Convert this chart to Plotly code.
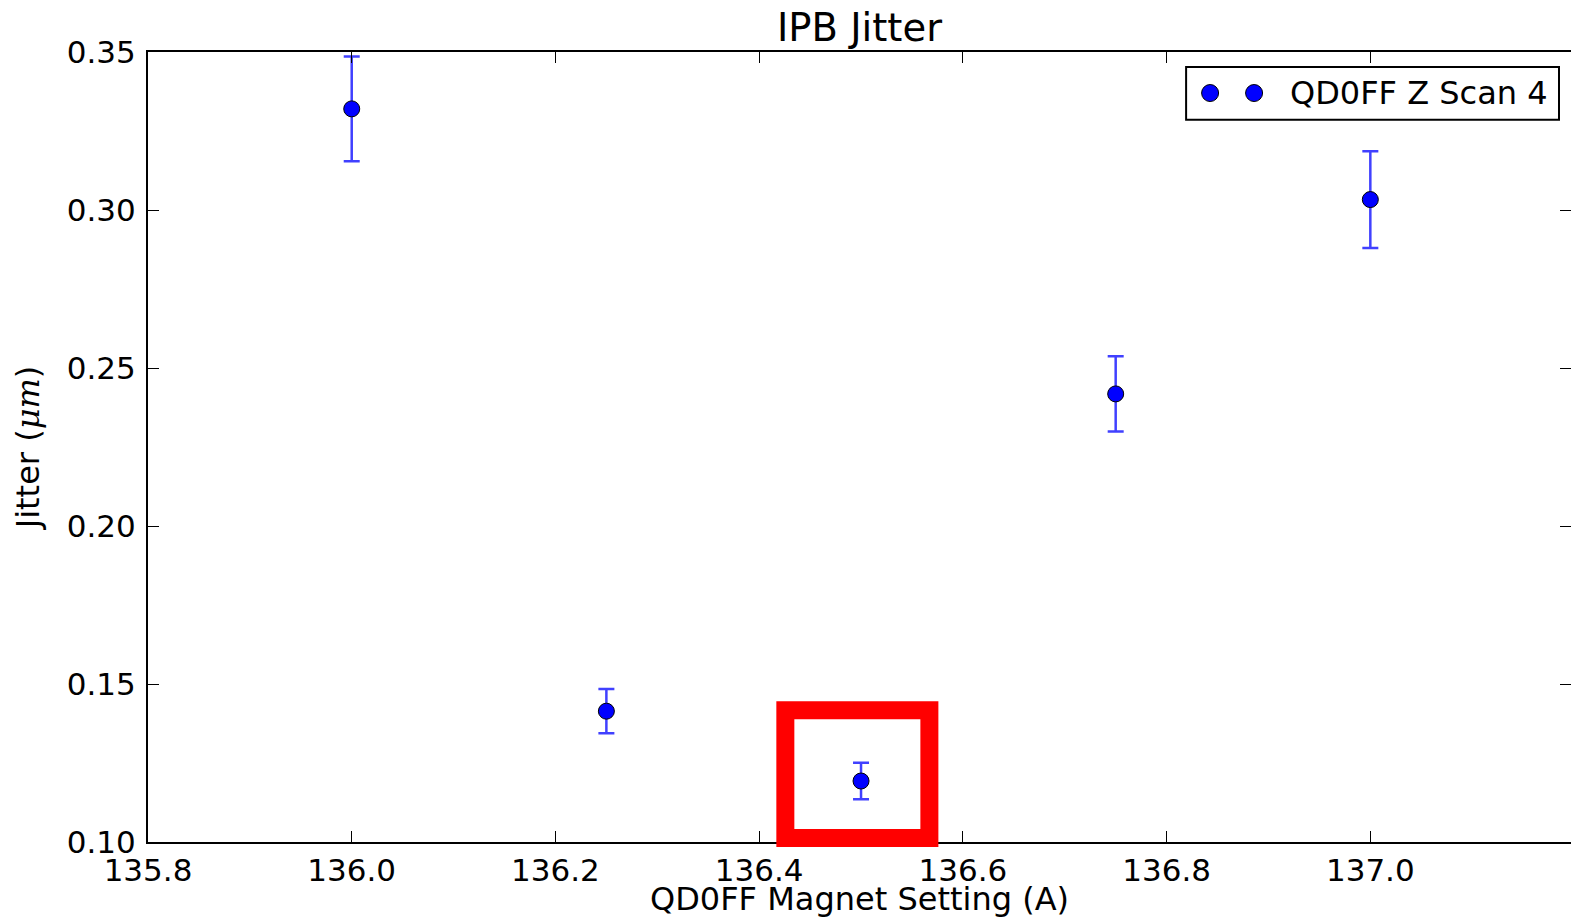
import plotly.graph_objects as go

# ---- data ----
magnet_setting = [136.0, 136.25, 136.5, 136.75, 137.0]
jitter = [0.3320, 0.1414, 0.1193, 0.2418, 0.3033]
jitter_err = [0.0166, 0.0070, 0.0058, 0.0119, 0.0153]
series_name = "QD0FF Z Scan 4"

x_ticks = [135.8, 136.0, 136.2, 136.4, 136.6, 136.8, 137.0]
y_ticks = [0.10, 0.15, 0.20, 0.25, 0.30, 0.35]

# highlighted region (data units, centre of the red outline)
box_x = [136.4257, 136.5671]
box_y = [0.1013, 0.1417]

# ---- layout geometry ----
W, H = 1571, 918
ML, MT, MB, MR = 147.6, 52.3, 76.3, 0
XR = [135.8, 137.197]
YR = [0.10, 0.35]
pw = W - ML - MR
ph = H - MT - MB


def px_to_paper_x(px):
    return (px - ML) / pw


def py_to_paper_y(py):
    return (H - MB - py) / ph


def dx_to_paper(v):
    return (v - XR[0]) / (XR[1] - XR[0])


def dy_to_paper(v):
    return (v - YR[0]) / (YR[1] - YR[0])


FONT = "DejaVu Sans"

fig = go.Figure()
fig.add_trace(go.Scatter(
    x=magnet_setting, y=jitter, mode="markers", name=series_name,
    showlegend=False,
    marker=dict(color="#0000ff", size=16, line=dict(color="black", width=1)),
    error_y=dict(type="data", array=jitter_err, visible=True,
                 color="rgba(30,30,255,0.85)", thickness=2.5, width=8),
    cliponaxis=False,
))

axis_common = dict(
    showgrid=False, zeroline=False, showline=True, linecolor="black", linewidth=2,
    mirror="allticks", ticks="inside", ticklen=11, tickwidth=1, tickcolor="black",
    tickfont=dict(family=FONT, size=31, color="black"), automargin=False,
)

fig.update_xaxes(range=XR, tickvals=x_ticks, ticktext=[f"{v:.1f}" for v in x_ticks],
                 title=dict(text="QD0FF Magnet Setting (A)",
                            font=dict(family=FONT, size=32, color="black"), standoff=9),
                 **axis_common)
fig.update_yaxes(range=YR, tickvals=y_ticks, ticktext=[f"{v:.2f}" for v in y_ticks],
                 title=dict(text="Jitter (<i><span style=\"font-family:'DejaVu Serif'\">μm</span></i>)",
                            font=dict(family=FONT, size=32, color="black"), standoff=18),
                 ticklabelstandoff=4,
                 **axis_common)

shapes = []
# red highlight box
shapes.append(dict(type="rect", xref="paper", yref="paper",
                   x0=dx_to_paper(box_x[0]), x1=dx_to_paper(box_x[1]),
                   y0=dy_to_paper(box_y[0]), y1=dy_to_paper(box_y[1]),
                   line=dict(color="#ff0000", width=18), fillcolor="rgba(0,0,0,0)", layer="above"))
# legend frame
shapes.append(dict(type="rect", xref="paper", yref="paper",
                   x0=px_to_paper_x(1186), x1=px_to_paper_x(1559),
                   y0=py_to_paper_y(120), y1=py_to_paper_y(67.3),
                   line=dict(color="black", width=2), fillcolor="white", layer="above"))
# legend markers (two points, matplotlib style)
r = 8.5
for cx in (1210, 1254):
    shapes.append(dict(type="circle", xref="paper", yref="paper",
                       x0=px_to_paper_x(cx - r), x1=px_to_paper_x(cx + r),
                       y0=py_to_paper_y(93.3 + r), y1=py_to_paper_y(93.3 - r),
                       line=dict(color="black", width=1), fillcolor="#0000ff", layer="above"))

fig.update_layout(
    width=W, height=H,
    margin=dict(l=ML, r=MR, t=MT, b=MB, pad=0, autoexpand=False),
    paper_bgcolor="white", plot_bgcolor="white",
    font=dict(family=FONT, color="black"),
    title=dict(text="IPB Jitter", x=0.5, xref="paper", xanchor="center",
               y=1, yref="paper", yanchor="bottom", pad=dict(b=11),
               font=dict(family=FONT, size=38.5, color="black")),
    shapes=shapes,
    annotations=[dict(text=series_name, xref="paper", yref="paper",
                      x=px_to_paper_x(1288), y=py_to_paper_y(93.5),
                      xanchor="left", yanchor="middle", showarrow=False,
                      font=dict(family=FONT, size=32, color="black"))],
    showlegend=False,
)

fig.write_html("out.html")
